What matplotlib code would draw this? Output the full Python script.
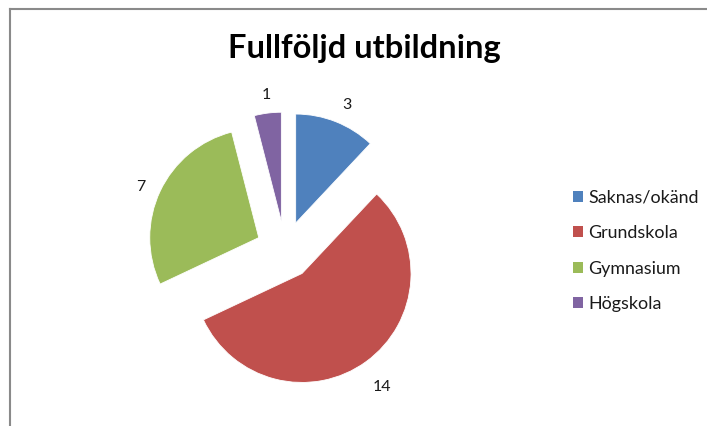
import matplotlib
matplotlib.use("Agg")
import matplotlib.pyplot as plt
from matplotlib.lines import Line2D
import matplotlib.transforms as mtransforms

categories = ["Saknas/okänd", "Grundskola", "Gymnasium", "Högskola"]
values = [3, 14, 7, 1]
colors = ["#4F81BD", "#C0504D", "#9BBB59", "#8064A2"]
title = "Fullföljd utbildning"

plt.rcParams['font.family'] = ['Lato', 'DejaVu Sans']

W, H = 707, 426
fig = plt.figure(figsize=(W / 100, H / 100), dpi=100)
ax = fig.add_axes([0, 0, 1, 1])

R = 109.0
cx, cy = 285.0, 250.0  # pixel center (from top)

wedges, texts = ax.pie(values, colors=colors, startangle=90, counterclock=False,
                       explode=[0.266] * len(values), radius=1.0,
                       labels=[str(v) for v in values], labeldistance=1.22,
                       wedgeprops=dict(edgecolor="white", linewidth=0.6),
                       textprops=dict(fontsize=11.5, color="#1a1a1a"))
shift = mtransforms.ScaledTranslation(2 / 100, -6 / 100, fig.dpi_scale_trans)
for t in texts:
    t.set_ha("center")
    t.set_va("center")
    t.set_transform(t.get_transform() + shift)

ax.set_xlim(-cx / R, (W - cx) / R)
ax.set_ylim(-(H - cy) / R, cy / R)
ax.set_aspect("auto")
ax.axis("off")

title_txt = fig.text(0.516, 0.885, title, ha="center", va="center", fontsize=20,
                     fontweight="bold", color="black")

# measure to match reference text widths
fig.canvas.draw()
r = fig.canvas.get_renderer()
tw = title_txt.get_window_extent(r).width
title_txt.set_fontsize(20 * 273 / tw)
probe = fig.text(0, 0, categories[0], fontsize=12)
lw = probe.get_window_extent(r).width
probe.remove()
fs = 12 * 110 / lw
fs_px = fs * 100 / 72

handles = [plt.Rectangle((0, 0), 1, 1, facecolor=c, edgecolor="none") for c in colors]
leg = fig.legend(handles, categories, loc="center left",
                 bbox_to_anchor=(573 / W, 1 - 251 / H),
                 frameon=False, handlelength=10 / fs_px, handleheight=10 / fs_px,
                 handletextpad=5 / fs_px, labelspacing=(41 - 1.2 * fs_px) / fs_px,
                 borderpad=0, borderaxespad=0, fontsize=fs, labelcolor="#1a1a1a")

# chart frame (left and top edges visible)
fx = 9.5 / W
fy = 1 - 8.5 / H
fig.add_artist(Line2D([fx, fx], [0, fy], transform=fig.transFigure, color="#8a8a8a", lw=1.5))
fig.add_artist(Line2D([fx, 1], [fy, fy], transform=fig.transFigure, color="#8a8a8a", lw=1.5))

fig.savefig("out.png", dpi=100)
